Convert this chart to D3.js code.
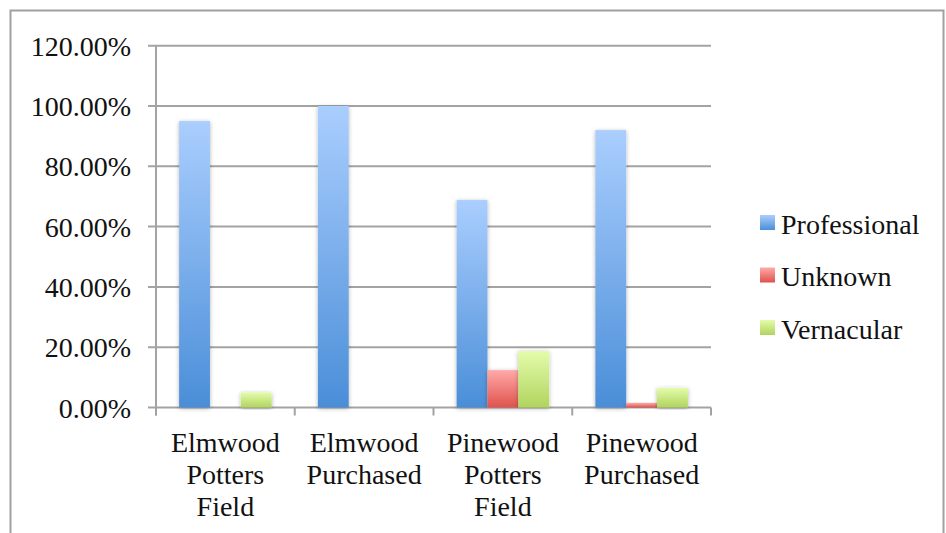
<!DOCTYPE html>
<html>
<head>
<meta charset="utf-8">
<script src="https://cdn.jsdelivr.net/npm/d3@7"></script>
<style>
  body { margin: 0; background: #fff; }
  text { font-family: "Liberation Serif", serif; fill: #111; }
</style>
</head>
<body>
<div id="chart"></div>
<script>
var categories = [["Elmwood", "Potters", "Field"], ["Elmwood", "Purchased"], ["Pinewood", "Potters", "Field"], ["Pinewood", "Purchased"]]
var seriesNames = ["Professional", "Unknown", "Vernacular"]
var professional = [95.0, 100.0, 68.8, 92.0]
var unknown = [0, 0, 12.4, 1.5]
var vernacular = [5.0, 0, 18.7, 6.5]
var yTicks = [0, 20, 40, 60, 80, 100, 120]

var series = [professional, unknown, vernacular]
var gradColors = [["#aacefe", "#4a8ed8"], ["#ffaaa8", "#df524d"], ["#e3fcab", "#b1d45e"]]

var w = 946, h = 533
var pLeft = 156, pRight = 711, pTop = 45.7, pBottom = 407.5
var fs = 28

var svg = d3.select("#chart").append("svg")
    .attr("width", w)
    .attr("height", h)

var defs = svg.append("defs")
gradColors.forEach(function(c, i){
    var g = defs.append("linearGradient").attr("id", "grad" + i)
        .attr("x1", 0).attr("y1", 0).attr("x2", 0).attr("y2", 1)
    g.append("stop").attr("offset", "0%").attr("stop-color", c[0])
    g.append("stop").attr("offset", "100%").attr("stop-color", c[1])
})
var f = defs.append("filter").attr("id", "shadow")
    .attr("x", "-30%").attr("y", "-10%").attr("width", "160%").attr("height", "120%")
f.append("feDropShadow").attr("dx", 0).attr("dy", 1).attr("stdDeviation", 2)
    .attr("flood-color", "#000").attr("flood-opacity", 0.3)

// outer frame
svg.append("rect")
    .attr("x", 10.5).attr("y", 10.5)
    .attr("width", 933).attr("height", 540)
    .attr("fill", "none").attr("stroke", "#a0a0a0").attr("stroke-width", 2)

var y = d3.scaleLinear().domain([0, 120]).range([pBottom, pTop])
var x0 = d3.scaleBand().domain(d3.range(categories.length)).range([pLeft, pRight]).paddingInner(0).paddingOuter(0)
var x1 = d3.scaleBand().domain(d3.range(3)).range([0, x0.bandwidth()]).paddingInner(0).paddingOuter(0.75)

// gridlines
svg.selectAll(".grid")
    .data(yTicks)
    .join("line")
    .attr("class", "grid")
    .attr("x1", pLeft - 8).attr("x2", pRight)
    .attr("y1", function(d){ return y(d) }).attr("y2", function(d){ return y(d) })
    .attr("stroke", "#a3a3a3").attr("stroke-width", 2)

// y axis line
svg.append("line")
    .attr("x1", pLeft).attr("x2", pLeft).attr("y1", pTop).attr("y2", pBottom + 8)
    .attr("stroke", "#a3a3a3").attr("stroke-width", 2)

// x category ticks
svg.selectAll(".xtick")
    .data(d3.range(categories.length + 1))
    .join("line")
    .attr("class", "xtick")
    .attr("x1", function(d){ return pLeft + d * x0.step() })
    .attr("x2", function(d){ return pLeft + d * x0.step() })
    .attr("y1", pBottom).attr("y2", pBottom + 8)
    .attr("stroke", "#a3a3a3").attr("stroke-width", 2)

// y labels
svg.selectAll(".ylab")
    .data(yTicks)
    .join("text")
    .attr("class", "ylab")
    .attr("x", 131)
    .attr("y", function(d){ return y(d) + 10 })
    .attr("text-anchor", "end")
    .attr("font-size", fs)
    .text(function(d){ return d.toFixed(2) + "%" })

// bars
var groups = svg.selectAll(".grp")
    .data(categories)
    .join("g")
    .attr("class", "grp")
    .attr("transform", function(d, i){ return "translate(" + x0(i) + ",0)" })

groups.selectAll("rect")
    .data(function(d, i){ return series.map(function(s, j){ return {s: j, v: s[i]} }) })
    .join("rect")
    .filter(function(d){ return d.v > 0 })
    .attr("x", function(d){ return x1(d.s) })
    .attr("width", x1.bandwidth())
    .attr("y", function(d){ return y(d.v) })
    .attr("height", function(d){ return pBottom - y(d.v) })
    .attr("fill", function(d){ return "url(#grad" + d.s + ")" })
    .attr("filter", "url(#shadow)")

// category labels
groups.each(function(d, i){
    var t = d3.select(this).append("text")
        .attr("text-anchor", "middle")
        .attr("font-size", fs)
    d.forEach(function(line, k){
        t.append("tspan").attr("x", x0.bandwidth() / 2).attr("y", 452 + k * 32).text(line)
    })
})

// legend
var legend = svg.selectAll(".leg")
    .data(seriesNames)
    .join("g")
    .attr("class", "leg")
    .attr("transform", function(d, i){ return "translate(760," + (215 + i * 52.5) + ")" })
legend.append("rect")
    .attr("width", 15).attr("height", 15)
    .attr("fill", function(d, i){ return "url(#grad" + i + ")" })
legend.append("text")
    .attr("x", 21).attr("y", 18.5)
    .attr("font-size", fs)
    .text(function(d){ return d })
</script>
</body>
</html>
